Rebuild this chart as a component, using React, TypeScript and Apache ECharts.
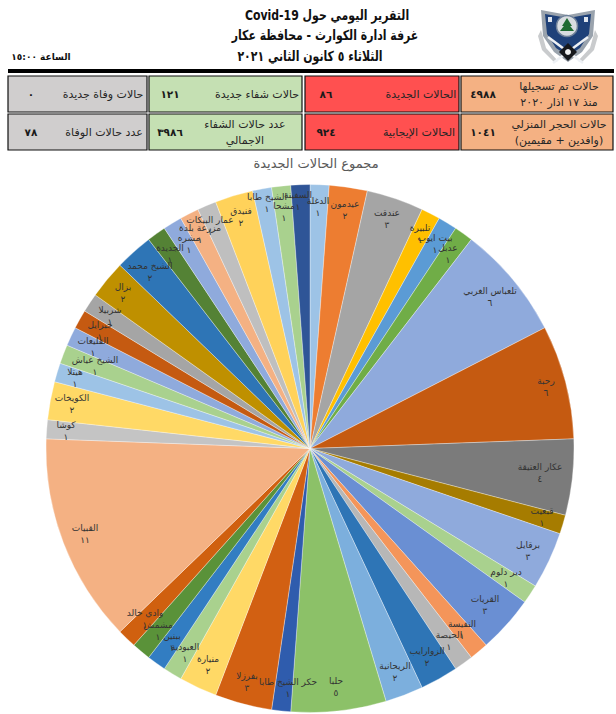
import React, { useEffect, useRef } from "react";
import * as echarts from "echarts";

const villages = [
  "الدغلة", "عيدمون", "عندقت", "تلبيرة", "بيت ايوب", "عدبل", "تلعباس الغربي", "رحبة", "عكار العتيقة", "قبعيت",
  "برقايل", "دير دلوم", "القريات", "النفيسة", "الحيصة", "الزوارايب", "الريحانية", "حلبا", "حكر الشيخ طابا", "بفرزلا",
  "منيارة", "العبودية", "ببنين", "مشمش", "وادي خالد", "القبيات", "كوشا", "الكويخات", "هيتلا", "الشيخ عياش",
  "القليعات", "جبرايل", "شربيلا", "بزال", "الشيخ محمد", "الجديدة", "مشره", "مزرعة بلدة", "عمار البيكات", "فنيدق",
  "الشيخ طابا", "مشحا", "السفينة",
];
const caseCounts = [
  1, 2, 3, 1, 1, 1, 6, 6, 4, 1,
  3, 1, 3, 1, 1, 2, 2, 5, 1, 3,
  2, 1, 1, 1, 1, 11, 1, 2, 1, 1,
  1, 1, 1, 2, 2, 1, 1, 1, 1, 2,
  1, 1, 1,
];
const sliceColors = [
  "#9dc3e6", "#ed7d31", "#a5a5a5", "#ffc000", "#5b9bd5", "#70ad47", "#8faadc", "#c55a11", "#7b7b7b", "#a67c00",
  "#8faadc", "#a9d18e", "#6a8fd3", "#f4955a", "#b7b7b7", "#2e75b6", "#7cafdd", "#8cc168", "#2f5cad", "#d26012",
  "#ffd966", "#a9d18e", "#327dc2", "#5a9239", "#d0600f", "#f4b183", "#c4c4c4", "#ffd966", "#9dc3e6", "#a9d18e",
  "#8faadc", "#c55a11", "#a5a5a5", "#bf9000", "#2e75b6", "#548235", "#8faadc", "#f4b183", "#bfbfbf", "#ffd25a",
  "#9dc3e6", "#a9d18e", "#2f5597",
];
const labelAnchors = [
  [318, 207], [345, 210], [387, 219], [420, 234], [435, 244], [448, 254], [490, 297], [546, 387], [540, 473], [542, 517],
  [528, 551], [506, 578], [485, 605], [462, 630], [449, 641], [427, 657], [395, 672], [336, 687], [288, 688], [247, 682],
  [208, 665], [185, 653], [172, 642], [158, 631], [145, 619], [85, 534], [66, 431], [72, 404], [75, 378], [95, 366],
  [93, 347], [100, 331], [110, 316], [123, 293], [150, 272], [170, 254], [189, 244], [200, 234], [210, 226], [241, 217],
  [267, 203], [284, 212], [298, 201],
];
const titleLines = ["التقرير اليومي حول Covid-19", "غرفة ادارة الكوارث - محافظة عكار", "الثلاثاء ٥ كانون الثاني ٢٠٢١"];
const timeText = "الساعة ١٥:٠٠";
const chartTitle = "مجموع الحالات الجديدة";
const summaryLabels = [
  ["حالات وفاة جديدة", "حالات شفاء جديدة", "الحالات الجديدة", "حالات تم تسجيلها\nمنذ ١٧ اذار ٢٠٢٠"],
  ["عدد حالات الوفاة", "عدد حالات الشفاء\nالاجمالي", "الحالات الإيجابية", "حالات الحجر المنزلي\n(وافدين + مقيمين)"],
];
const summaryValues = [
  ["٠", "١٢١", "٨٦", "٤٩٨٨"],
  ["٧٨", "٣٩٨٦", "٩٢٤", "١٠٤١"],
];

const FONT = "'DejaVu Sans', 'Noto Sans', sans-serif";
const columns = [
  { x: 8, w: 139, fill: "#d0cece", labelX: [103, 104], numX: 31 },
  { x: 149, w: 153, fill: "#c5e0b3", labelX: [257, 245], numX: 170 },
  { x: 305, w: 154, fill: "#ff5050", labelX: [421, 419], numX: 326 },
  { x: 461, w: 152, fill: "#f4b183", labelX: [559, 559], numX: 483 },
];
const rows = [
  { y: 76, h: 36 },
  { y: 114, h: 36 },
];

const toIndic = (n: number) => String(n).replace(/\d/g, (d) => "٠١٢٣٤٥٦٧٨٩"[Number(d)]);

function tableGraphics() {
  const out: any[] = [];
  rows.forEach((row, r) => {
    columns.forEach((col, c) => {
      out.push({
        type: "rect",
        shape: { x: col.x, y: row.y, width: col.w, height: row.h },
        style: { fill: col.fill, stroke: "#111", lineWidth: 1.2 },
      });
      const cy = row.y + row.h / 2;
      out.push({
        type: "text",
        x: col.labelX[r],
        y: cy,
        style: {
          text: summaryLabels[r][c],
          fill: "#262626",
          font: `11px ${FONT}`,
          align: "center",
          verticalAlign: "middle",
          lineHeight: 16,
        },
      });
      out.push({
        type: "text",
        x: col.numX,
        y: cy,
        style: {
          text: summaryValues[r][c],
          fill: "#1a1a1a",
          font: `bold 10.5px ${FONT}`,
          align: "center",
          verticalAlign: "middle",
        },
      });
    });
  });
  return out;
}

function logoGraphics() {
  const ox = 568;
  const oy = 36;
  const pts = (list: number[][]) => list.map(([a, b]) => [ox + a, oy + b]);
  return [
    // laurel wings
    { type: "polygon", shape: { points: pts([[-27, -6], [-22, 12], [-10, 25], [-14, 26], [-26, 14], [-30, 0]]) }, style: { fill: "#c9cbcd" } },
    { type: "polygon", shape: { points: pts([[27, -6], [22, 12], [10, 25], [14, 26], [26, 14], [30, 0]]) }, style: { fill: "#c9cbcd" } },
    // shield
    { type: "polygon", shape: { points: pts([[-27, -26], [0, -21], [27, -26], [25, 0], [14, 16], [0, 26], [-14, 16], [-25, 0]]) }, style: { fill: "#9aa3ad" } },
    { type: "polygon", shape: { points: pts([[-23, -22], [0, -18], [23, -22], [21, -2], [12, 12], [0, 20], [-12, 12], [-21, -2]]) }, style: { fill: "#1f4179" } },
    { type: "rect", shape: { x: ox - 20, y: oy - 19, width: 4, height: 5 }, style: { fill: "#dfe5ee" } },
    { type: "rect", shape: { x: ox + 16, y: oy - 19, width: 4, height: 5 }, style: { fill: "#dfe5ee" } },
    // swords
    { type: "line", shape: { x1: ox - 20, y1: oy + 1, x2: ox + 15, y2: oy + 27 }, style: { stroke: "#eef1f5", lineWidth: 2.5 } },
    { type: "line", shape: { x1: ox + 20, y1: oy + 1, x2: ox - 15, y2: oy + 27 }, style: { stroke: "#eef1f5", lineWidth: 2.5 } },
    // cedar medallion
    { type: "circle", shape: { cx: ox - 1, cy: oy - 10, r: 10.5 }, style: { fill: "#d9dde0", stroke: "#6f8199", lineWidth: 1.5 } },
    { type: "polygon", shape: { points: pts([[-1, -18], [4, -10], [-6, -10]]) }, style: { fill: "#1f6b32" } },
    { type: "polygon", shape: { points: pts([[-1, -14], [6, -5], [-8, -5]]) }, style: { fill: "#1f6b32" } },
    // diamond
    { type: "polygon", shape: { points: pts([[0, 7], [9, 16], [0, 25], [-9, 16]]) }, style: { fill: "#16181c" } },
    { type: "circle", shape: { cx: ox, cy: oy + 16, r: 3 }, style: { fill: "#f0f0f0" } },
  ];
}

export default function App() {
  const ref = useRef<HTMLDivElement>(null);
  useEffect(() => {
    const chart = echarts.init(ref.current!, undefined, { renderer: "svg" });
    chart.setOption({
      animation: false,
      backgroundColor: "#fff",
      title: {
        text: chartTitle,
        left: 311,
        top: 152,
        textAlign: "center",
        textStyle: { fontFamily: FONT, fontSize: 13, fontWeight: "normal", color: "#595959" },
      },
      graphic: [
        ...titleLines.map((t, i) => ({
          type: "text",
          x: [327, 325, 310][i],
          y: [15, 35, 56][i],
          scaleX: 0.78,
          style: {
            text: t,
            fill: "#111",
            font: `bold 14px ${FONT}`,
            align: "center",
            verticalAlign: "middle",
          },
        })),
        {
          type: "text",
          x: 41,
          y: 57,
          style: { text: timeText, fill: "#111", font: `bold 9px ${FONT}`, align: "center", verticalAlign: "middle" },
        },
        { type: "rect", shape: { x: 8, y: 69, width: 606, height: 4 }, style: { fill: "#000" } },
        ...tableGraphics(),
        ...logoGraphics(),
      ],
      series: [
        {
          type: "pie",
          center: [310, 448.5],
          radius: [0, 264],
          startAngle: 90,
          clockwise: true,
          minShowLabelAngle: 0,
          data: villages.map((name, i) => ({
            name,
            value: caseCounts[i],
            itemStyle: { color: sliceColors[i] },
          })),
          itemStyle: { borderColor: "rgba(255,255,255,0.55)", borderWidth: 0.6 },
          label: {
            show: true,
            position: "inside",
            formatter: (p: any) => `${p.name}\n${toIndic(p.value)}`,
            fontFamily: FONT,
            fontSize: 9,
            lineHeight: 12,
            color: "#333",
            align: "center",
            verticalAlign: "middle",
          },
          labelLine: { show: false },
          labelLayout: (p: any) => ({
            x: labelAnchors[p.dataIndex][0],
            y: labelAnchors[p.dataIndex][1],
            align: "center",
            verticalAlign: "middle",
          }),
        },
      ],
    });
    return () => chart.dispose();
  }, []);
  return (
    <div
      ref={ref}
      dir="rtl"
      style={{ width: 616, height: 714, position: "absolute", left: 0, top: 0, direction: "rtl" }}
    />
  );
}
